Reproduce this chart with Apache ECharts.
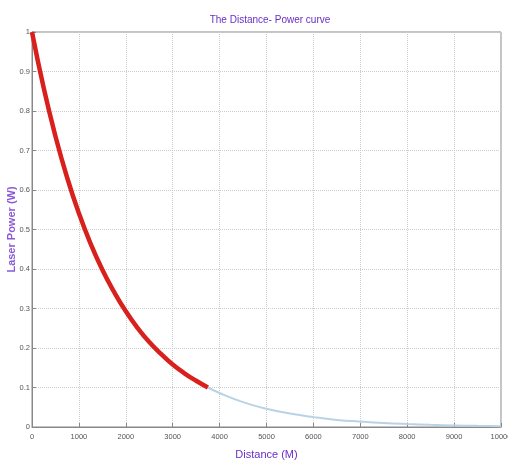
<!DOCTYPE html>
<html><head><meta charset="utf-8">
<script src="https://cdn.jsdelivr.net/npm/echarts@6/dist/echarts.min.js"></script>
<style>html,body{margin:0;padding:0;background:#fff}#c{width:508px;height:463px}</style>
</head><body><div id="c"></div>
<script>
// Distance (M) and laser power (W)
var nearDistance = [0,250,500,750,1000,1250,1500,1750,2000,2250,2500,2750,3000,3250,3500,3750];
var nearPower    = [1.000,0.858,0.736,0.631,0.541,0.464,0.398,0.342,0.293,0.251,0.215,0.185,0.158,0.136,0.117,0.100];
var farDistance  = [3750,4000,4500,5000,5500,6000,6500,7000,7500,8000,8500,9000,9500,10000];
var farPower     = [0.100,0.086,0.063,0.046,0.034,0.025,0.018,0.0136,0.010,0.0074,0.0054,0.0040,0.0029,0.0021];
var xTicks = [0,1000,2000,3000,4000,5000,6000,7000,8000,9000,10000];
var yTicks = [0,0.1,0.2,0.3,0.4,0.5,0.6,0.7,0.8,0.9,1];

function pairs(xs, ys){ return xs.map(function(x,i){return [x, ys[i]];}); }

var chart = echarts.init(document.getElementById('c'));
var lab = {color:'#555', fontSize:7.5, fontFamily:'Liberation Sans Narrow, Arial'};
chart.setOption({
  animation:false,
  title:{text:'The Distance- Power curve', left:265, top:10, textAlign:'center',
    textStyle:{color:'#6a2fc8', fontSize:10, fontWeight:'normal', fontFamily:'Liberation Sans Narrow, Arial'}},
  grid:{left:32, right:7, top:32, bottom:36, show:true, borderColor:'#888', borderWidth:1,
    containLabel:false, outerBoundsMode:'none'},
  xAxis:{type:'value', min:xTicks[0], max:xTicks[xTicks.length-1], interval:1000,
    name:'Distance (M)', nameLocation:'middle', nameGap:22, nameMoveOverlap:false,
    nameTextStyle:{color:'#6a2fc8', fontSize:11, fontFamily:'Liberation Sans Narrow, Arial'},
    axisLine:{lineStyle:{color:'#888'}},
    axisTick:{inside:true, length:4, lineStyle:{color:'#888'}},
    axisLabel:Object.assign({margin:6, formatter:function(v){return String(v);}}, lab),
    splitLine:{show:true, lineStyle:{color:'#ccc', type:'dotted'}}},
  yAxis:{type:'value', min:yTicks[0], max:yTicks[yTicks.length-1], interval:0.1,
    name:'Laser Power (W)', nameLocation:'middle', nameGap:15, nameMoveOverlap:false,
    nameTextStyle:{color:'#8a5ad8', fontSize:11, fontWeight:'bold', fontFamily:'Liberation Sans, Arial'},
    axisLine:{lineStyle:{color:'#888'}},
    axisTick:{inside:true, length:4, lineStyle:{color:'#888'}},
    axisLabel:Object.assign({margin:2, formatter:function(v){return String(Math.round(v*10)/10);}}, lab),
    splitLine:{show:true, lineStyle:{color:'#ccc', type:'dotted'}}},
  series:[
    {type:'line', data:pairs(farDistance, farPower), showSymbol:false, smooth:true,
     lineStyle:{color:'#b9d3e6', width:2}},
    {type:'line', data:pairs(nearDistance, nearPower), showSymbol:false, smooth:true,
     lineStyle:{color:'#d8201c', width:4.5}}
  ]
});
</script></body></html>
